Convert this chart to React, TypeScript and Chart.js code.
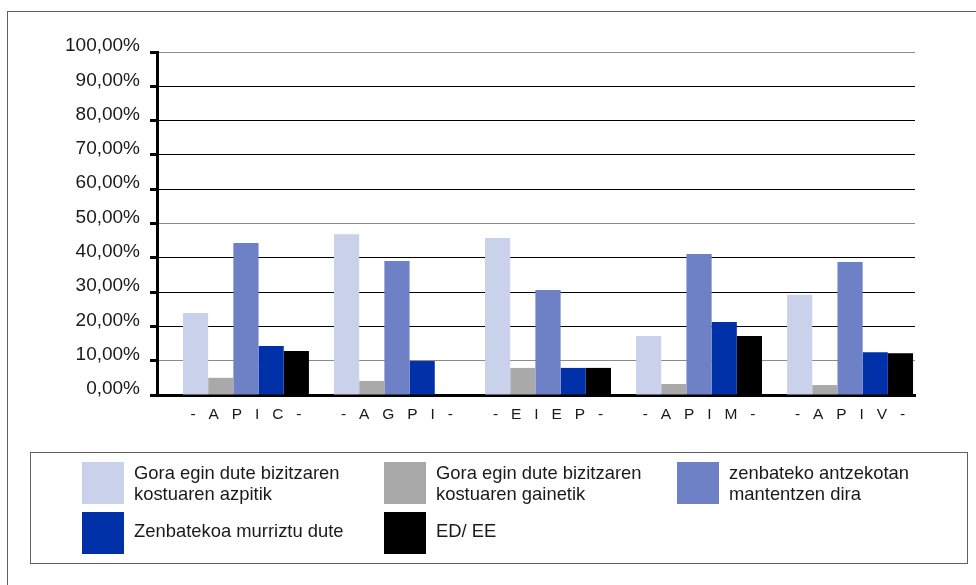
import React, { useEffect, useRef } from 'react';
import { Chart, registerables } from 'chart.js';

Chart.register(...registerables);

// ---- data ----
const categories = ['- A P I C -', '- A G P I -', '- E I E P -', '- A P I M -', '- A P I V -'];
const seriesNames = [
  'Gora egin dute bizitzaren kostuaren azpitik',
  'Gora egin dute bizitzaren kostuaren gainetik',
  'zenbateko antzekotan mantentzen dira',
  'Zenbatekoa murriztu dute',
  'ED/ EE',
];
const belowCost = [23.9, 46.9, 45.8, 17.2, 29.2];
const aboveCost = [5.0, 4.1, 7.9, 3.2, 2.9];
const sameAmount = [44.3, 39.1, 30.6, 41.1, 38.8];
const reduced = [14.3, 9.9, 7.9, 21.3, 12.5];
const noAnswer = [12.8, 0, 7.9, 17.2, 12.2];
const yTicks = [0, 10, 20, 30, 40, 50, 60, 70, 80, 90, 100];
const legendLines = [
  ['Gora egin dute bizitzaren', 'kostuaren azpitik'],
  ['Gora egin dute bizitzaren', 'kostuaren gainetik'],
  ['zenbateko antzekotan', 'mantentzen dira'],
  ['Zenbatekoa murriztu dute'],
  ['ED/ EE'],
];

const seriesValues = [belowCost, aboveCost, sameAmount, reduced, noAnswer];
const colors = ['#C9D1EB', '#A9A9A9', '#6E80C6', '#0031A8', '#000000'];
const grayGridValues = [10, 50, 100];

const FONT = "'Liberation Sans', Arial, sans-serif";

export default function App() {
  const canvasRef = useRef<HTMLCanvasElement | null>(null);

  useEffect(() => {
    const canvas = canvasRef.current;
    if (!canvas) return;
    const chart = new Chart(canvas, {
      type: 'bar',
      data: {
        datasets: seriesValues.map((vals, k) => ({
          label: seriesNames[k],
          data: vals.map((v, i) => ({ x: i, y: v })),
          backgroundColor: colors[k],
          borderWidth: 0,
          categoryPercentage: 0.834,
          barPercentage: 1,
        })),
      },
      options: {
        responsive: false,
        animation: false,
        devicePixelRatio: 1,
        layout: { padding: { left: 0, top: 52, right: 61, bottom: 0 } },
        plugins: { legend: { display: false }, tooltip: { enabled: false } },
        scales: {
          x: {
            type: 'linear',
            min: -0.589,
            max: 4.43,
            bounds: 'data',
            offset: false,
            afterBuildTicks: (s: any) => {
              s.ticks = categories.map((_, i) => ({ value: i }));
            },
            afterFit: (s: any) => {
              s.height = 190;
            },
            grid: { display: false, drawTicks: false, offset: false },
            border: { display: true, width: 3, color: '#000' },
            ticks: {
              autoSkip: false,
              maxRotation: 0,
              padding: 10,
              color: '#1a1a1a',
              font: { family: FONT, size: 15.5 },
              callback: (v: any) => {
                const c = categories[v as number];
                return c ? c.split(' ').join('   ') : '';
              },
            },
          },
          y: {
            type: 'linear',
            min: 0,
            max: 100,
            afterBuildTicks: (s: any) => {
              s.ticks = yTicks.map((v) => ({ value: v }));
            },
            afterFit: (s: any) => {
              s.width = 157;
            },
            grid: {
              color: (ctx: any) => (grayGridValues.includes(ctx.tick?.value) ? '#8a8a8a' : '#000'),
              lineWidth: 1,
              tickLength: 7,
              tickWidth: 3,
              tickColor: '#000',
            },
            border: { display: true, width: 3, color: '#000' },
            ticks: {
              padding: 10,
              labelOffset: -6,
              color: '#1a1a1a',
              font: { family: FONT, size: 19 },
              callback: (v: any) => `${Number(v).toFixed(2).replace('.', ',')}%`,
            },
          },
        },
      },
    } as any);
    return () => chart.destroy();
  }, []);

  const colX = [82, 384, 677];
  const rowY = [462, 512];

  return (
    <div
      style={{
        position: 'absolute',
        left: 0,
        top: 0,
        width: 976,
        height: 585,
        overflow: 'hidden',
        background: '#fff',
        fontFamily: FONT,
      }}
    >
      <div
        style={{
          position: 'absolute',
          left: 7,
          top: 11,
          width: 1200,
          height: 1200,
          border: '1px solid #606060',
        }}
      />
      <canvas
        ref={canvasRef}
        width={976}
        height={585}
        style={{ position: 'absolute', left: 0, top: 0, width: 976, height: 585 }}
      />
      <div
        style={{
          position: 'absolute',
          left: 30,
          top: 452,
          width: 938,
          height: 112,
          boxSizing: 'border-box',
          border: '1px solid #606060',
        }}
      />
      {legendLines.map((lines, k) => {
        const x = colX[k % 3];
        const y = rowY[Math.floor(k / 3)];
        return (
          <React.Fragment key={k}>
            <div
              style={{
                position: 'absolute',
                left: x,
                top: y,
                width: 42,
                height: 42,
                background: colors[k],
              }}
            />
            <div
              style={{
                position: 'absolute',
                left: x + 52,
                top: lines.length === 1 ? y + 7.5 : y - 0.5,
                fontSize: 18.4,
                lineHeight: '21px',
                color: '#1a1a1a',
                whiteSpace: 'nowrap',
              }}
            >
              {lines.map((l, j) => (
                <div key={j}>{l}</div>
              ))}
            </div>
          </React.Fragment>
        );
      })}
    </div>
  );
}
